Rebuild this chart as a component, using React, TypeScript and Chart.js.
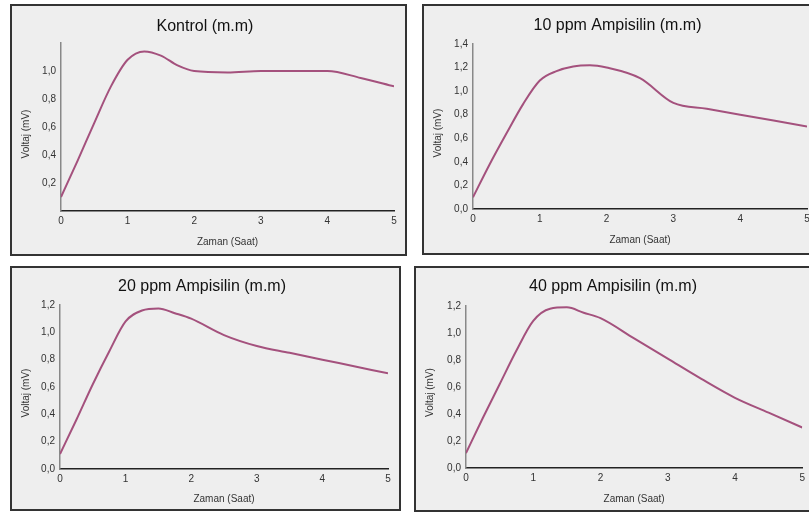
import React, { useEffect, useRef } from "react";
import { Chart, registerables } from "chart.js";

Chart.register(...registerables);

// ---- data ----
const TIMES = [0, 0.25, 0.5, 0.75, 1, 1.25, 1.5, 1.75, 2, 2.5, 3, 3.5, 4, 4.5, 5];
const KONTROL = [0.1, 0.36, 0.63, 0.89, 1.08, 1.14, 1.11, 1.04, 1.0, 0.99, 1.0, 1.0, 1.0, 0.95, 0.89];
const AMP10 = [0.1, 0.38, 0.64, 0.89, 1.09, 1.17, 1.21, 1.22, 1.2, 1.11, 0.9, 0.85, 0.8, 0.75, 0.7];
const AMP20 = [0.11, 0.36, 0.62, 0.86, 1.08, 1.16, 1.175, 1.14, 1.1, 0.98, 0.9, 0.85, 0.8, 0.75, 0.7];
const AMP40 = [0.11, 0.37, 0.62, 0.87, 1.09, 1.18, 1.19, 1.15, 1.11, 0.96, 0.81, 0.66, 0.52, 0.41, 0.3];
const TITLES = ["Kontrol (m.m)", "10 ppm Ampisilin (m.m)", "20 ppm Ampisilin (m.m)", "40 ppm Ampisilin (m.m)"];
const Y_MAX = [1.2, 1.4, 1.2, 1.2];
const X_TITLE = "Zaman (Saat)";
const Y_TITLE = "Voltaj (mV)";

const SERIES = [KONTROL, AMP10, AMP20, AMP40];

// ---- layout (page pixels) ----
type Layout = {
  left: number; top: number; w: number; h: number;
  x0: number; x1: number; yTop: number; yBottom: number;
  titleY: number; yTitleX: number; yTitleShift: number; xTitleOff: number;
  hideEnds: boolean;
};
const LAYOUTS: Layout[] = [
  { left: 10, top: 4, w: 397, h: 252, x0: 61, x1: 394, yTop: 43, yBottom: 211, titleY: 26.2, yTitleX: 26.7, yTitleShift: 7, xTitleOff: 31, hideEnds: true },
  { left: 422, top: 4, w: 397, h: 251, x0: 473, x1: 807, yTop: 44, yBottom: 209, titleY: 25.8, yTitleX: 438.3, yTitleShift: 6.5, xTitleOff: 31.5, hideEnds: false },
  { left: 10, top: 266, w: 391, h: 245, x0: 60, x1: 388, yTop: 305, yBottom: 469, titleY: 286.7, yTitleX: 26.7, yTitleShift: 6, xTitleOff: 30, hideEnds: false },
  { left: 414, top: 266, w: 397, h: 246, x0: 466, x1: 806, yTop: 306, yBottom: 468, titleY: 286.5, yTitleX: 430, yTitleShift: 5.5, xTitleOff: 31.3, hideEnds: false },
];

const BORDER = 2;
const FONT = "'Liberation Sans', Arial, sans-serif";

function Panel({ idx }: { idx: number }) {
  const ref = useRef<HTMLCanvasElement | null>(null);
  const L = LAYOUTS[idx];
  const ox = L.left + BORDER;
  const oy = L.top + BORDER;
  const cw = L.w - 2 * BORDER;
  const ch = L.h - 2 * BORDER;

  useEffect(() => {
    if (!ref.current) return;
    const lx0 = L.x0 - ox;
    const lx1 = L.x1 - ox;
    const lTop = L.yTop - oy;
    const lBottom = L.yBottom - oy;
    const tc = L.titleY - oy;
    const titleLH = 16 * 1.2;
    const yTitleLocalX = L.yTitleX - ox;
    const padLeft = 4;
    const yWidth = lx0 - padLeft;
    const xHeight = L.xTitleOff + 10;
    const padBottom = ch - lBottom - xHeight;
    const padRight = cw - lx1;
    const yMax = Y_MAX[idx];
    const values = SERIES[idx];

    const yTitlePlugin = {
      id: "yTitleText",
      afterDraw(c: any) {
        const { ctx, chartArea } = c;
        ctx.save();
        ctx.translate(yTitleLocalX, (chartArea.top + chartArea.bottom) / 2 + L.yTitleShift);
        ctx.rotate(-Math.PI / 2);
        ctx.font = `10px ${FONT}`;
        ctx.fillStyle = "#333";
        ctx.textAlign = "center";
        ctx.textBaseline = "middle";
        ctx.fillText(Y_TITLE, 0, 0);
        ctx.restore();
      },
    };

    const chart = new Chart(ref.current, {
      type: "line",
      data: {
        datasets: [
          {
            data: TIMES.map((t, i) => ({ x: t, y: values[i] })),
            borderColor: "#a4517d",
            borderWidth: 2,
            pointRadius: 0,
            cubicInterpolationMode: "monotone",
            fill: false,
          },
        ],
      },
      plugins: [yTitlePlugin],
      options: {
        responsive: false,
        animation: false,
        layout: { padding: { left: padLeft, right: padRight, top: 0, bottom: Math.max(0, padBottom) } },
        plugins: {
          legend: { display: false },
          tooltip: { enabled: false },
          title: {
            display: true,
            text: TITLES[idx],
            color: "#111",
            font: { family: FONT, size: 16, weight: "normal" },
            padding: { top: tc - titleLH / 2, bottom: lTop - tc - titleLH / 2 },
          },
        },
        scales: {
          x: {
            type: "linear",
            min: 0,
            max: 5,
            grid: { display: false, drawTicks: false },
            border: { display: true, color: "#222", width: 1.5 },
            ticks: {
              stepSize: 1,
              padding: 4,
              color: "#333",
              font: { family: FONT, size: 10 },
              callback: (v: any) => String(v),
            },
            title: {
              display: true,
              text: X_TITLE,
              color: "#333",
              font: { family: FONT, size: 10 },
              padding: { top: 4, bottom: 4 },
            },
            afterFit: (s: any) => {
              s.height = xHeight;
            },
          },
          y: {
            min: 0,
            max: yMax,
            grid: { display: false, drawTicks: false },
            border: { display: true, color: "#888", width: 1.5 },
            ticks: {
              stepSize: 0.2,
              padding: 5,
              color: "#333",
              font: { family: FONT, size: 10 },
              callback: (v: any) => {
                const n = Number(v);
                if (L.hideEnds && (Math.abs(n) < 1e-9 || Math.abs(n - yMax) < 1e-9)) return "";
                return n.toFixed(1).replace(".", ",");
              },
            },
            title: { display: false },
            afterFit: (s: any) => {
              s.width = yWidth;
            },
          },
        },
      },
    });
    return () => chart.destroy();
  }, [idx]);

  return (
    <div
      style={{
        position: "absolute",
        left: L.left,
        top: L.top,
        width: L.w,
        height: L.h,
        boxSizing: "border-box",
        border: `${BORDER}px solid #333`,
        background: "#eeeeee",
      }}
    >
      <canvas ref={ref} width={cw} height={ch} style={{ display: "block", width: cw, height: ch }} />
    </div>
  );
}

export default function App() {
  return (
    <div
      style={{
        position: "fixed",
        left: 0,
        top: 0,
        width: 809,
        height: 513,
        overflow: "hidden",
        background: "#ffffff",
      }}
    >
      {LAYOUTS.map((_, i) => (
        <Panel key={i} idx={i} />
      ))}
    </div>
  );
}
